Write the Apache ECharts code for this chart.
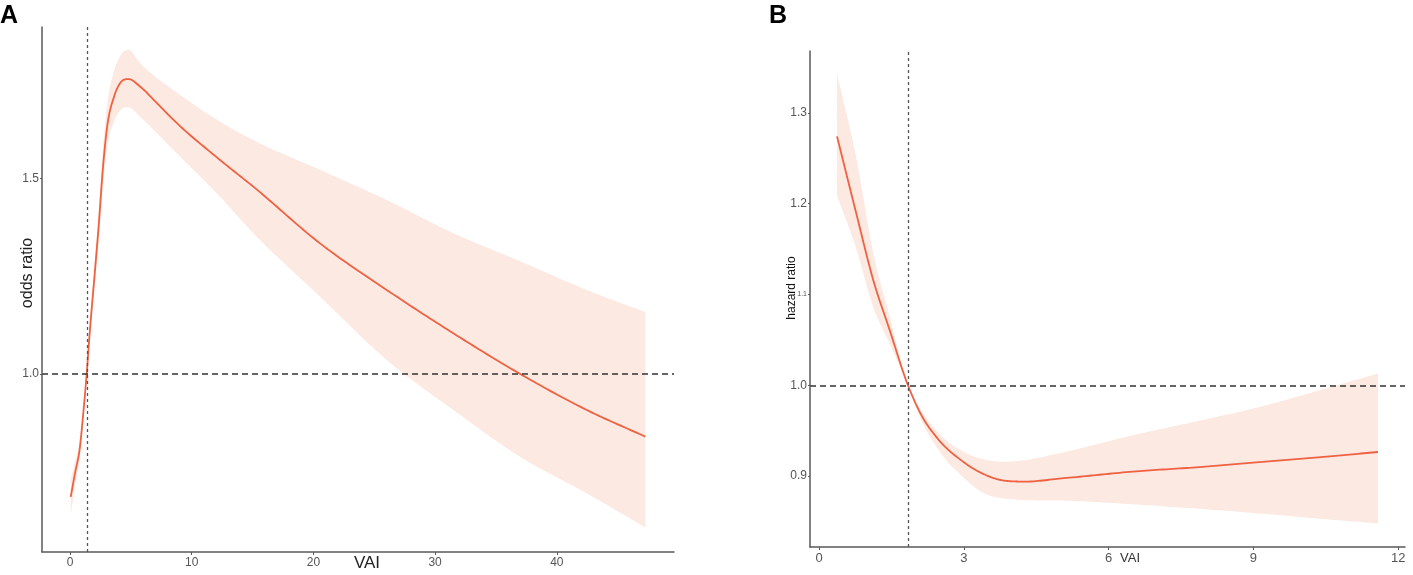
<!DOCTYPE html>
<html>
<head>
<meta charset="utf-8">
<script src="https://cdn.jsdelivr.net/npm/echarts@6/dist/echarts.min.js"></script>
<style>
html,body{margin:0;padding:0;background:#fff;}
#c{width:1413px;height:575px;}
</style>
</head>
<body>
<div id="c"></div>
<script>
// ---- Panel A: VAI vs odds ratio ----
const vaiA    = [0.06, 0.41, 0.82, 1.09, 1.37, 1.64, 2.0, 2.33, 2.74, 3.02, 3.62, 4.11, 4.79, 5.75, 7.0, 8.49, 12.33, 15.06, 20.54, 26.02, 31.5, 37.0, 42.46, 47.27];
const orA     = [0.686, 0.746, 0.814, 0.899, 1.0, 1.113, 1.245, 1.368, 1.539, 1.624, 1.709, 1.743, 1.754, 1.735, 1.697, 1.650, 1.547, 1.479, 1.334, 1.215, 1.104, 1.0, 0.908, 0.840];
const orLowA  = [0.640, 0.715, 0.790, 0.885, 1.0, 1.097, 1.215, 1.325, 1.490, 1.570, 1.645, 1.673, 1.682, 1.658, 1.620, 1.573, 1.453, 1.360, 1.198, 1.036, 0.908, 0.788, 0.695, 0.608];
const orHighA = [0.730, 0.775, 0.835, 0.912, 1.0, 1.130, 1.275, 1.405, 1.590, 1.680, 1.775, 1.812, 1.829, 1.795, 1.760, 1.726, 1.645, 1.598, 1.522, 1.445, 1.360, 1.288, 1.215, 1.158];
const refVaiA = 1.38;
const xTicksA = [0, 10, 20, 30, 40];
const yTicksA = [1.0, 1.5];

// ---- Panel B: VAI vs hazard ratio ----
const vaiB    = [0.37, 0.77, 1.12, 1.46, 1.84, 2.13, 2.43, 2.98, 3.46, 3.74, 4.15, 5.12, 6.5, 7.88, 9.12, 10.4, 11.58];
const hrB     = [1.274, 1.189, 1.116, 1.061, 1.0, 0.966, 0.943, 0.916, 0.901, 0.896, 0.894, 0.898, 0.905, 0.910, 0.9155, 0.921, 0.9266];
const hrLowB  = [1.209, 1.150, 1.086, 1.046, 1.0, 0.960, 0.932, 0.899, 0.880, 0.876, 0.874, 0.873, 0.869, 0.864, 0.859, 0.853, 0.848];
const hrHighB = [1.343, 1.250, 1.146, 1.076, 1.0, 0.971, 0.950, 0.927, 0.918, 0.916, 0.917, 0.927, 0.945, 0.961, 0.976, 0.995, 1.013];
const refVaiB = 1.84;
const xTicksB = [0, 3, 6, 9, 12];
const yTicksB = [0.9, 1.0, 1.1, 1.2, 1.3];

const LINE = '#EF6140';
const BAND = '#FCE9E2';
const AXIS = '#5a5a5a';
const FONT = 'Liberation Sans, Arial, sans-serif';

// smooth cubic Hermite through pixel points (x increasing), for drawing only
function hermite(pts) {
  const n = pts.length, h = [], d = [], m = [];
  for (let i = 0; i < n - 1; i++) {
    h[i] = pts[i + 1][0] - pts[i][0];
    d[i] = (pts[i + 1][1] - pts[i][1]) / h[i];
  }
  m[0] = d[0]; m[n - 1] = d[n - 2];
  for (let i = 1; i < n - 1; i++) m[i] = (d[i - 1] * h[i] + d[i] * h[i - 1]) / (h[i - 1] + h[i]);
  const out = [];
  for (let i = 0; i < n - 1; i++) {
    const steps = 20;
    for (let s = 0; s < steps; s++) {
      const t = s / steps, t2 = t * t, t3 = t2 * t;
      const h00 = 2 * t3 - 3 * t2 + 1, h10 = t3 - 2 * t2 + t, h01 = -2 * t3 + 3 * t2, h11 = t3 - t2;
      out.push([pts[i][0] + t * h[i],
        h00 * pts[i][1] + h10 * h[i] * m[i] + h01 * pts[i + 1][1] + h11 * h[i] * m[i + 1]]);
    }
  }
  out.push(pts[n - 1].slice());
  return out;
}

function xAxisCfg(gi, min, max, ticks, fs) {
  return {
    type: 'value', gridIndex: gi, min: min, max: max, z: 10,
    splitLine: { show: false },
    axisLine: { onZero: false, lineStyle: { color: AXIS, width: 1.5 } },
    axisTick: { show: true, length: 3, customValues: ticks, lineStyle: { color: AXIS } },
    axisLabel: { customValues: ticks, color: '#555', fontSize: fs, fontFamily: FONT, margin: 5 }
  };
}
function yAxisCfg(gi, min, max, ticks, fs, fmt, rich) {
  return {
    type: 'value', gridIndex: gi, min: min, max: max, z: 10,
    splitLine: { show: false },
    axisLine: { show: true, onZero: false, lineStyle: { color: AXIS, width: 1.5 } },
    axisTick: { show: true, length: 2, customValues: ticks, lineStyle: { color: AXIS } },
    axisLabel: { customValues: ticks, color: '#555', fontSize: fs, fontFamily: FONT, margin: 3, formatter: fmt, rich: rich }
  };
}

function panelSeries(idx, xs, mid, lo, hi, refX) {
  return {
    type: 'custom', xAxisIndex: idx, yAxisIndex: idx, silent: true, z: 2,
    data: xs.map((x, i) => [x, mid[i], lo[i], hi[i]]),
    encode: { x: 0, y: [1, 2, 3] },
    renderItem: function (params, api) {
      if (params.dataIndex !== 0) return null;
      const toPx = ys => xs.map((x, i) => api.coord([x, ys[i]]));
      const up = hermite(toPx(hi));
      const dn = hermite(toPx(lo)).reverse();
      const md = hermite(toPx(mid));
      return {
        type: 'group',
        children: [
          { type: 'polygon', shape: { points: up.concat(dn) }, style: { fill: BAND }, z2: 1 },
          { type: 'polyline', shape: { points: md }, style: { stroke: LINE, lineWidth: 1.8, fill: 'none', lineJoin: 'round' }, z2: 2 }
        ]
      };
    },
    markLine: {
      silent: true, symbol: ['none', 'none'], label: { show: false }, animation: false,
      data: [
        { yAxis: 1, lineStyle: { type: [6, 4], color: '#333', width: 1.6 } },
        { xAxis: refX, lineStyle: { type: [3, 3], color: '#555', width: 1.3 } }
      ]
    }
  };
}

const chart = echarts.init(document.getElementById('c'), null, { renderer: 'canvas' });
chart.setOption({
  backgroundColor: '#fff',
  animation: false,
  grid: [
    { left: 42, top: 27, width: 632, height: 525 },
    { left: 810, top: 51, width: 595, height: 496 }
  ],
  xAxis: [
    xAxisCfg(0, -2.3, 49.63, xTicksA, 12),
    xAxisCfg(1, -0.19, 12.14, xTicksB, 13)
  ],
  yAxis: [
    yAxisCfg(0, 0.545, 1.887, yTicksA, 12, v => v.toFixed(1)),
    yAxisCfg(1, 0.822, 1.368, yTicksB, 12,
      v => (Math.abs(v - 1.1) < 1e-6 ? '{s|1.1}' : v.toFixed(1)),
      { s: { fontSize: 7, color: '#555', fontFamily: FONT } })
  ],
  series: [
    panelSeries(0, vaiA, orA, orLowA, orHighA, refVaiA),
    panelSeries(1, vaiB, hrB, hrLowB, hrHighB, refVaiB)
  ],
  graphic: [
    { type: 'text', left: 0, top: 4, style: { text: 'A', font: 'bold 25px ' + FONT, fill: '#000' } },
    { type: 'text', left: 769, top: 4, style: { text: 'B', font: 'bold 25px ' + FONT, fill: '#000' } },
    { type: 'text', x: 28, y: 273, rotation: Math.PI / 2,
      style: { text: 'odds ratio', font: '16px ' + FONT, fill: '#222', align: 'center', verticalAlign: 'middle' } },
    { type: 'text', x: 367, y: 563,
      style: { text: 'VAI', font: '17px ' + FONT, fill: '#222', align: 'center', verticalAlign: 'middle' } },
    { type: 'text', x: 792, y: 288, rotation: Math.PI / 2,
      style: { text: 'hazard ratio', font: '12px ' + FONT, fill: '#111', align: 'center', verticalAlign: 'middle' } },
    { type: 'text', x: 1130, y: 558,
      style: { text: 'VAI', font: '13px ' + FONT, fill: '#333', align: 'center', verticalAlign: 'middle' } }
  ]
});
</script>
</body>
</html>
